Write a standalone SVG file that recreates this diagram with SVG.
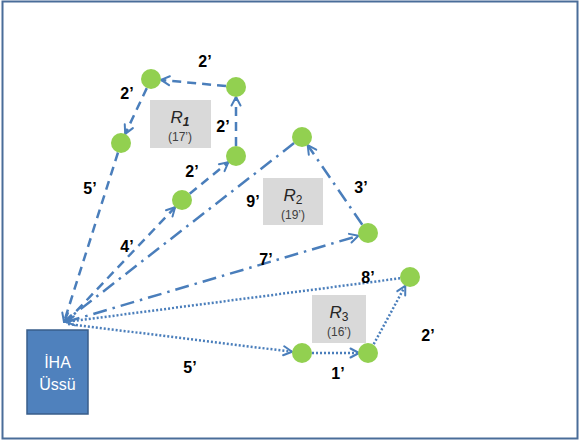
<svg xmlns="http://www.w3.org/2000/svg" width="580" height="443" viewBox="0 0 580 443">
<defs>
<marker id="arr" markerUnits="userSpaceOnUse" markerWidth="12" markerHeight="12" viewBox="0 0 12 12" refX="10.5" refY="6" orient="auto">
<path d="M2,1.5 L10.5,6 L2,10.5" fill="none" stroke="#4a7ebb" stroke-width="2" stroke-dasharray="none" stroke-linecap="round" stroke-linejoin="round"/>
</marker>
</defs>
<style>
.edge{fill:none;stroke:#4a7ebb;stroke-width:2.5;marker-end:url(#arr)}
.r1{stroke-dasharray:9 6}
.r2{stroke-dasharray:14 6 2.5 6}
.r3{stroke-dasharray:2 2;stroke-width:2.5}
.wp{fill:#92d050}
.lbl{font-family:"Liberation Sans",Arial,sans-serif;font-weight:bold;font-size:16px;fill:#000;text-anchor:middle}
.rbox{fill:#d9d9d9}
.rt{font-family:"Liberation Sans",Arial,sans-serif;font-style:italic;font-size:17px;fill:#262626;text-anchor:middle}
.rs{font-family:"Liberation Sans",Arial,sans-serif;font-size:12px;fill:#404040;text-anchor:middle}
.bt{font-family:"Liberation Sans",Arial,sans-serif;font-size:16px;fill:#fff;text-anchor:middle}
</style>
<rect x="2.5" y="1.5" width="575" height="437" fill="#fff" stroke="#4a6d99" stroke-width="2"/>

<g id="r1-box"><rect class="rbox" x="150" y="100" width="61" height="48"/><text class="rt" x="180" y="123">R<tspan font-size="12" font-weight="bold" dy="3">1</tspan></text><text class="rs" x="180" y="141">(17’)</text></g>
<g id="r2-box"><rect class="rbox" x="263" y="178" width="60" height="47"/><text class="rt" x="293" y="201">R<tspan font-size="12" font-style="normal" dy="3">2</tspan></text><text class="rs" x="293" y="219">(19’)</text></g>
<g id="r3-box"><rect class="rbox" x="312" y="295" width="54" height="48"/><text class="rt" x="339" y="318">R<tspan font-size="12" font-style="normal" dy="3">3</tspan></text><text class="rs" x="339" y="336">(16’)</text></g>

<g id="connectors">
<line class="edge r1" x1="66" y1="322" x2="175.1" y2="207.2"/>
<line class="edge r1" x1="189.7" y1="193.7" x2="228.3" y2="162.3"/>
<line class="edge r1" x1="236" y1="146" x2="236" y2="97"/>
<line class="edge r1" x1="226" y1="86.1" x2="161" y2="79.9"/>
<line class="edge r1" x1="146.8" y1="88.1" x2="125.2" y2="133.9"/>
<line class="edge r1" x1="118" y1="152.5" x2="64" y2="322"/>
<line class="edge r2" x1="66" y1="322" x2="358.4" y2="235.8"/>
<line class="edge r2" x1="362.3" y1="224.8" x2="307.7" y2="145.2"/>
<line class="edge r2" x1="294.1" y1="143.1" x2="64" y2="322"/>
<line class="edge r3" x1="68" y1="324" x2="292.1" y2="351.8"/>
<line class="edge r3" x1="312" y1="353" x2="359" y2="353"/>
<line class="edge r3" x1="373.7" y1="344.2" x2="405.3" y2="285.8"/>
<line class="edge r3" x1="400.1" y1="278.3" x2="66" y2="322"/>
</g>

<g id="base"><rect x="27" y="330" width="61" height="84" fill="#4f81bd" stroke="#385d8a" stroke-width="1.5"/><text class="bt" x="57.5" y="368">İHA</text><text class="bt" x="57.5" y="390">Üssü</text></g>

<g id="wpA"><circle class="wp" cx="151" cy="79" r="10"/></g>
<g id="wpB"><circle class="wp" cx="236" cy="87" r="10"/></g>
<g id="wpC"><circle class="wp" cx="121" cy="143" r="10"/></g>
<g id="wpD"><circle class="wp" cx="236" cy="156" r="10"/></g>
<g id="wpE"><circle class="wp" cx="182" cy="200" r="10"/></g>
<g id="wpF"><circle class="wp" cx="302" cy="137" r="10"/></g>
<g id="wpG"><circle class="wp" cx="368" cy="233" r="10"/></g>
<g id="wpH"><circle class="wp" cx="410" cy="277" r="10"/></g>
<g id="wpI"><circle class="wp" cx="302" cy="353" r="10"/></g>
<g id="wpJ"><circle class="wp" cx="368" cy="353" r="10"/></g>

<g id="labels">
<text class="lbl" x="205" y="67">2’</text>
<text class="lbl" x="127" y="99">2’</text>
<text class="lbl" x="223" y="132">2’</text>
<text class="lbl" x="192" y="177">2’</text>
<text class="lbl" x="90" y="194">5’</text>
<text class="lbl" x="127" y="252">4’</text>
<text class="lbl" x="253" y="207">9’</text>
<text class="lbl" x="361" y="193">3’</text>
<text class="lbl" x="266" y="265">7’</text>
<text class="lbl" x="368" y="283">8’</text>
<text class="lbl" x="190" y="373">5’</text>
<text class="lbl" x="338" y="379">1’</text>
<text class="lbl" x="428" y="341">2’</text>
</g>
</svg>
